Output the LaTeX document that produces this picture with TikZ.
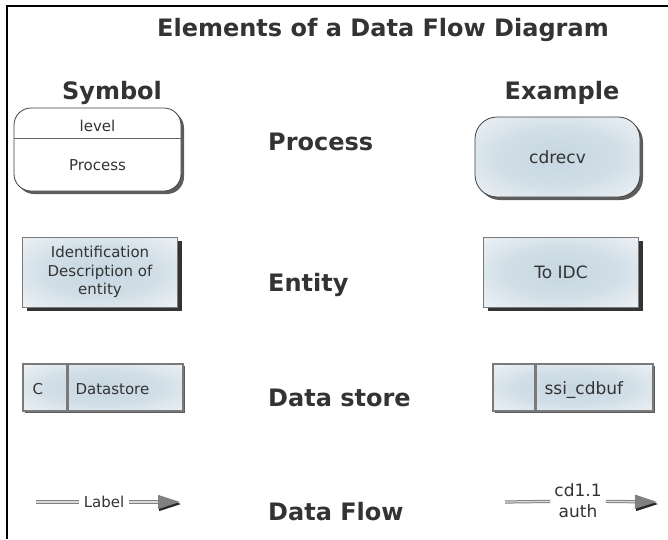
\documentclass[tikz,border=0pt]{standalone}
\usepackage{fontspec}
\setmainfont{DejaVu Sans}
\usepackage{tikz}
\usetikzlibrary{shadows,arrows.meta}

\definecolor{dfdtext}{HTML}{333333}
\definecolor{dfdshade}{HTML}{C6D6E1}
\definecolor{dfdedge}{HTML}{7A7A7A}

\pgfdeclareradialshading{dfdglow}{\pgfpoint{0bp}{0bp}}{color(0bp)=(dfdshade); color(18bp)=(dfdshade!80!white); color(38bp)=(dfdshade!25!white); color(50bp)=(white); color(100bp)=(white)}

\tikzset{
  heading/.style={font=\fontsize{24}{29}\selectfont\bfseries, text=dfdtext, inner sep=0pt},
  boxtext/.style={font=\fontsize{15}{18.5}\selectfont, text=dfdtext, align=center},
  extext/.style={font=\fontsize{17}{21}\selectfont, text=dfdtext, align=center},
  glow/.style={shading=dfdglow},
  procsym/.style={draw=black!75, line width=0.8pt, rounded corners=17pt, fill=white,
    minimum width=167pt, minimum height=83pt,
    drop shadow={shadow xshift=3pt, shadow yshift=-3pt, fill=black!85, opacity=.75}},
  procbox/.style={draw=black!75, line width=0.8pt, rounded corners=22pt, glow,
    minimum width=165pt, minimum height=80pt,
    drop shadow={shadow xshift=3pt, shadow yshift=-3pt, fill=black!85, opacity=.75}},
  entbox/.style={draw=dfdedge, line width=0.8pt, glow,
    minimum width=155pt, minimum height=70pt,
    drop shadow={shadow xshift=4pt, shadow yshift=-4pt, fill=black!80, opacity=1}},
  storebox/.style={draw=dfdedge, line width=2pt, glow,
    minimum width=160pt, minimum height=47pt,
    drop shadow={shadow xshift=2pt, shadow yshift=-2pt, fill=black!80, opacity=.8}},
  storediv/.style={draw=dfdedge, line width=3pt},
  flowline/.style={draw=gray, double=gray!30, double distance=1.2pt, line width=1pt},
  flowhead/.style={flowline, -{Triangle[length=22pt,width=14pt]}},
  headshade/.style={black!85, line width=1pt, -{Triangle[length=22pt,width=14pt]}}
}

\begin{document}
\begin{tikzpicture}[x=1pt,y=-1pt]
  \useasboundingbox (0,0) rectangle (668,539);
  \draw[line width=2pt] (668,6) -- (7,6) -- (7,539);

  \node[heading] (title) at (383,30) {Elements of a Data Flow Diagram};
  \node[heading] (colsym) at (112,93) {Symbol};
  \node[heading] (colex) at (562,93) {Example};

  \node[heading, anchor=west] (hproc) at (268,142) {Process};
  \node[heading, anchor=west] (hent) at (268,285) {Entity};
  \node[heading, anchor=west] (hstore) at (268,398) {Data store};
  \node[heading, anchor=west] (hflow) at (268,512) {Data Flow};

  % process
  \node[procsym] (psym) at (97.5,149.5) {};
  \draw[black!60, line width=0.8pt] ([yshift=-31pt]psym.north west) -- ([yshift=-31pt]psym.north east);
  \node[boxtext] (plevel) at (97.5,126) {level};
  \node[boxtext] (pname) at (97.5,165) {Process};
  \node[procbox, extext] (pex) at (557.5,157) {cdrecv};

  % entity
  \node[entbox, boxtext] (esym) at (100,272) {Identification\\Description of\\entity};
  \node[entbox, extext] (eex) at (561,272) {To IDC};

  % data store
  \node[storebox] (dsym) at (103,387.5) {};
  \draw[storediv] ([xshift=45pt]dsym.north west) -- ([xshift=45pt]dsym.south west);
  \node[boxtext, anchor=west] (dsid) at (29,389) {C};
  \node[boxtext, anchor=west] (dsname) at (72,389) {Datastore};
  \node[storebox] (dex) at (572.5,387.5) {};
  \draw[storediv] ([xshift=44pt]dex.north west) -- ([xshift=44pt]dex.south west);
  \node[extext, anchor=west] (dexname) at (541,390) {ssi\_cdbuf};

  % data flow
  \coordinate (fsa) at (36,502);
  \node[boxtext, inner xsep=5pt] (flab) at (104,502) {Label};
  \coordinate (fse) at (180,502);
  \draw[headshade] ([xshift=-2pt,yshift=-2pt]fse) -- ([xshift=1pt,yshift=-2pt]fse);
  \draw[flowline] (fsa) -- (flab);
  \draw[flowhead] (flab) -- (fse);

  \coordinate (fea) at (505,502);
  \node[extext, inner xsep=4pt] (felab) at (578,501) {cd1.1\\auth};
  \coordinate (fee) at (657,502);
  \draw[headshade] ([xshift=-2pt,yshift=-2pt]fee) -- ([xshift=1pt,yshift=-2pt]fee);
  \draw[flowline] (fea) -- (felab);
  \draw[flowhead] (felab) -- (fee);
\end{tikzpicture}
\end{document}
